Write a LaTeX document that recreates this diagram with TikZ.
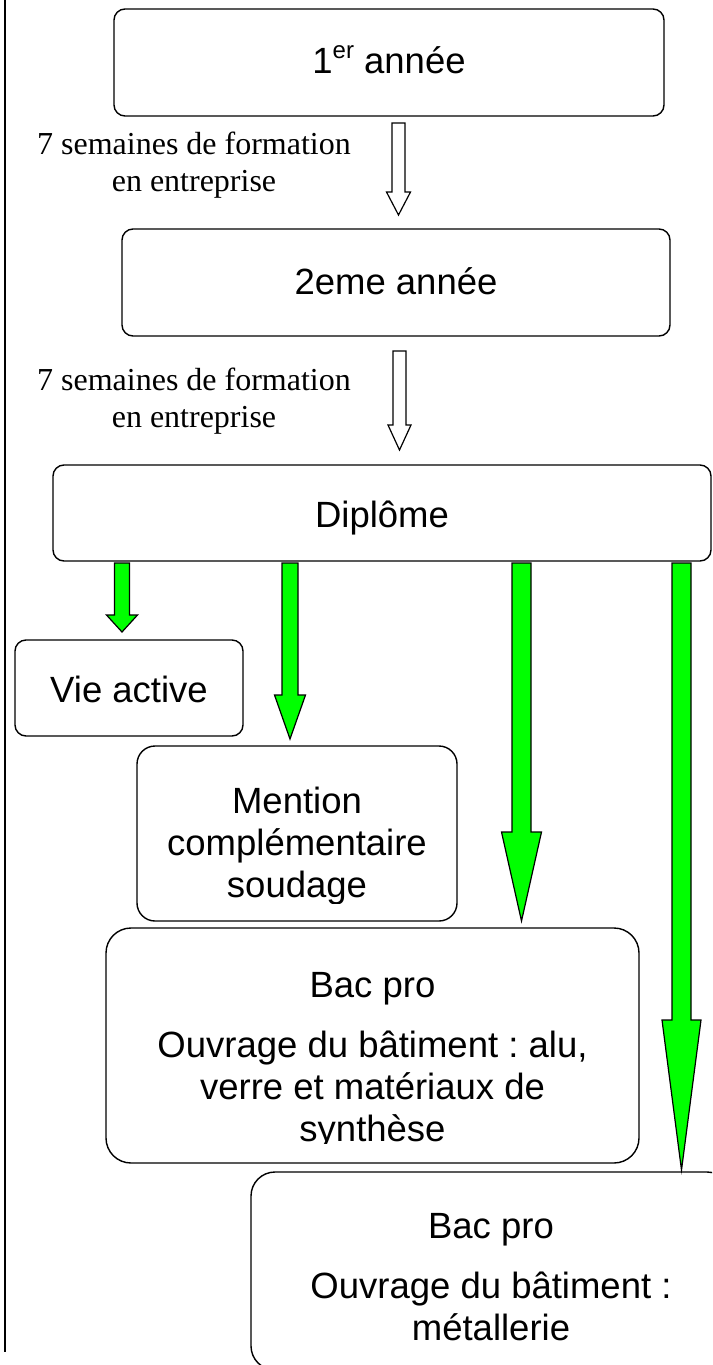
\documentclass[tikz,border=0pt]{standalone}
\usepackage{fontspec}
\setmainfont{Liberation Sans}
\newfontfamily\lblserif{Liberation Serif}
\definecolor{brightgreen}{HTML}{00FF00}
\frenchspacing
\tikzset{
  box/.style={draw, line width=1.4pt, rounded corners=#1, fill=white, inner sep=0pt},
  box/.default=11pt,
  boxtext/.style={anchor=base, inner sep=0pt, font=\fontsize{36.5}{42}\selectfont},
  lbltext/.style={anchor=base, inner sep=0pt, font=\lblserif\fontsize{32}{37}\selectfont},
  blkline/.style={draw=black, line width=1.2pt, line join=miter}
}
% x centre, y top, y head base, y tip, shaft half width, head half width, fill
\newcommand\blkarrow[7]{%
  \path[blkline, fill=#7] (#1-#5,#2) -- (#1+#5,#2) -- (#1+#5,#3) -- (#1+#6,#3)
    -- (#1,#4) -- (#1-#6,#3) -- (#1-#5,#3) -- cycle;}
\begin{document}
\begin{tikzpicture}[x=1pt,y=-1pt]
\useasboundingbox (0,0) rectangle (712,1365);
\clip (0,0) rectangle (712,1365);
\fill[white] (0,0) rectangle (712,1365);

% left rule
\draw[line width=1.5pt] (5,0) -- (5,1352);

% boxes
\node[box, minimum width=550pt, minimum height=107pt] (b1) at (389,62.5) {};
\node[box, minimum width=548pt, minimum height=107pt] (b2) at (396,282.5) {};
\node[box, minimum width=658pt, minimum height=96pt] (b3) at (382,513) {};
\node[box, minimum width=228pt, minimum height=96pt] (vie) at (129,688) {};
\node[box=18pt, minimum width=320pt, minimum height=175pt] (men) at (297,833.5) {};
\node[box=25pt, minimum width=533pt, minimum height=235pt] (bac1) at (372.5,1045.5) {};
\node[box=24pt, minimum width=480pt, minimum height=198pt] (bac2) at (491,1271) {};

% box texts
\node[boxtext] (t1) at (389,73) {1\raisebox{15pt}{\fontsize{24}{24}\selectfont er} année};
\node[boxtext] (t2) at (396,294) {2eme année};
\node[boxtext] (t3) at (382,527) {Diplôme};
\node[boxtext] (tvie) at (129,702) {Vie active};
\begin{scope}
  \clip (137,746) rectangle (457,903);
  \node[boxtext] (tmen) at (297,813) {\parbox[t]{310pt}{\centering Mention\\ complémentaire\\ soudage}};
\end{scope}
\begin{scope}
  \clip (106,928) rectangle (639,1143);
  \node[boxtext] (tbac1) at (372.5,997) {\parbox[t]{520pt}{\centering Bac pro\\[18pt] Ouvrage du bâtiment : alu,\\ verre et matériaux de\\ synthèse}};
\end{scope}
\node[boxtext] (tbac2) at (491,1238) {\parbox[t]{470pt}{\centering Bac pro\\[18pt] Ouvrage du bâtiment :\\ métallerie}};

% labels
\node[lbltext] (l1) at (194,154) {\parbox[t]{340pt}{\centering 7 semaines de formation\\ en entreprise}};
\node[lbltext] (l2) at (194,390) {\parbox[t]{340pt}{\centering 7 semaines de formation\\ en entreprise}};

% hollow arrows between the years
\blkarrow{398.5}{123}{192}{215}{6.5}{12}{white}
\blkarrow{399.5}{351}{425}{450}{6.5}{11.5}{white}

% green arrows from the diploma
\blkarrow{122}{563}{615}{632}{7.5}{15.5}{brightgreen}
\blkarrow{290}{563}{695}{739}{8}{15.5}{brightgreen}
\blkarrow{521.5}{563}{832}{921}{9.5}{20}{brightgreen}
\blkarrow{681.5}{563}{1020}{1170}{9.5}{19.5}{brightgreen}
\end{tikzpicture}
\end{document}
